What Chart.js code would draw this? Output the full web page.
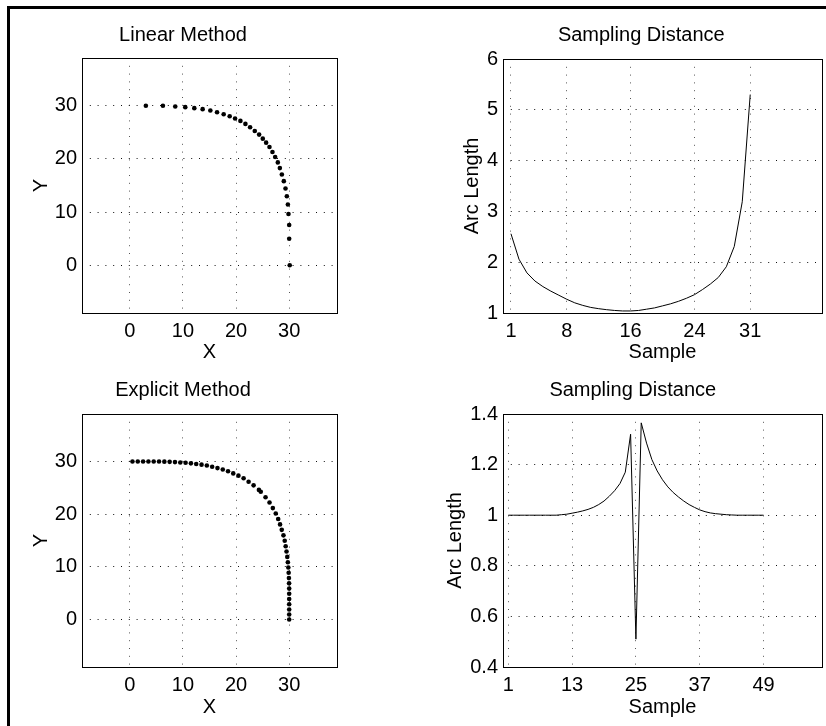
<!DOCTYPE html>
<html><head><meta charset="utf-8">
<script src="https://cdn.jsdelivr.net/npm/chart.js@4/dist/chart.umd.min.js"></script>
<style>
html,body{margin:0;padding:0;background:#fff;overflow:hidden;}
#wrap{position:relative;width:826px;height:726px;overflow:hidden;background:#fff;}
#frame{position:absolute;left:7px;top:6px;width:900px;height:900px;border:3px solid #000;box-sizing:border-box;}
canvas{position:absolute;left:0;top:0;}
</style></head><body>
<div id="wrap"><div id="frame"></div>
<canvas id="c1" width="826" height="726"></canvas>
<canvas id="c2" width="826" height="726"></canvas>
<canvas id="c3" width="826" height="726"></canvas>
<canvas id="c4" width="826" height="726"></canvas>
</div>
<script>
// ---- data ----
const linearX = [3.02,6.23,8.55,10.44,12.14,13.71,15.16,16.42,17.67,18.8,19.81,20.82,21.76,22.64,23.52,24.34,25.03,25.66,26.29,26.85,27.36,27.86,28.24,28.62,28.99,29.31,29.56,29.75,29.87,30.0,30.0,30.1];
const linearY = [30.0,30.0,29.87,29.75,29.56,29.37,29.12,28.8,28.42,28.04,27.6,27.16,26.6,25.97,25.27,24.58,23.82,23.07,22.25,21.3,20.36,19.35,18.28,17.08,15.82,14.43,12.98,11.41,9.64,7.56,4.98,0];
const linearArc = [2.56,2.06,1.79,1.63,1.52,1.43,1.35,1.27,1.20,1.15,1.11,1.085,1.065,1.05,1.04,1.04,1.05,1.075,1.10,1.14,1.18,1.23,1.29,1.36,1.46,1.57,1.70,1.91,2.31,3.19,5.30];
const explicitX = [0.5,1.5,2.5,3.5,4.5,5.5,6.5,7.5,8.5,9.5,10.5,11.5,12.5,13.5,14.5,15.5,16.5,17.5,18.49,19.47,20.45,21.42,22.36,23.3,24.3,24.65,25.55,26.3,26.92,27.47,27.93,28.28,28.6,28.92,29.16,29.34,29.5,29.64,29.75,29.84,29.9,29.95,29.98,30,30,30,30,30,30,30];
const explicitY = [30,30,30,30,29.99,29.98,29.96,29.92,29.87,29.81,29.74,29.64,29.52,29.39,29.22,29.0,28.74,28.47,28.14,27.73,27.3,26.8,26.16,25.46,24.6,24.25,23.2,22.2,21.15,20.12,19.08,18.05,17.02,15.98,14.95,13.92,12.9,11.89,10.88,9.87,8.87,7.87,6.87,5.87,4.9,3.9,2.9,1.9,0.95,0];
const explicitArc = [1,1,1,1,1,1,1,1,1,1,1.002,1.004,1.008,1.012,1.017,1.023,1.031,1.042,1.056,1.075,1.097,1.125,1.17,1.32,0.51,1.365,1.285,1.22,1.175,1.14,1.112,1.09,1.072,1.056,1.042,1.031,1.021,1.014,1.009,1.006,1.004,1.002,1.001,1,1,1,1,1,1];

const xyTicks = [0,10,20,30];
const xyTickLabels = ['0','10','20','30'];
const linSampleTicks = [1,8,16,24,31];
const linSampleLabels = ['1','8','16','24','31'];
const linArcTicks = [1,2,3,4,5,6];
const linArcLabels = ['1','2','3','4','5','6'];
const expSampleTicks = [1,13,25,37,49];
const expSampleLabels = ['1','13','25','37','49'];
const expArcTicks = [0.4,0.6,0.8,1,1.2,1.4];
const expArcLabels = ['0.4','0.6','0.8','1','1.2','1.4'];

const titles = ['Linear Method','Sampling Distance','Explicit Method','Sampling Distance'];

// ---- rendering ----
Chart.defaults.font.family = '"Liberation Sans", Arial, Helvetica, sans-serif';
Chart.defaults.color = '#000';
const FS = 20;

const boxPlugin = {
  id: 'box',
  afterDraw(chart) {
    const a = chart.chartArea, ctx = chart.ctx;
    ctx.save();
    ctx.strokeStyle = '#000';
    ctx.lineWidth = 1;
    ctx.strokeRect(Math.round(a.left) + 0.5, Math.round(a.top) + 0.5,
      Math.round(a.right) - Math.round(a.left), Math.round(a.bottom) - Math.round(a.top));
    ctx.restore();
  }
};

function axis(min, max, ticks, labels, title, gridColor, fixed, horiz, pad) {
  return {
    type: 'linear', min, max,
    afterBuildTicks: (s) => { s.ticks = ticks.map(v => ({value: v})); },
    afterFit: (s) => { if (horiz) s.height = fixed; else s.width = fixed; },
    ticks: {
      autoSkip: false, maxRotation: 0, padding: pad,
      font: {size: FS}, color: '#000',
      callback: (v) => { const i = ticks.indexOf(v); return i >= 0 ? labels[i] : ''; }
    },
    grid: {color: gridColor, lineWidth: 1, drawTicks: false},
    border: {display: false, dash: [1, 6.8]},
    title: {display: true, text: title, font: {size: FS}, color: '#000', padding: 0}
  };
}

function make(id, g, datasets, xs, ys, type) {
  const padLeft = g.yTitleCX - 12;
  const yWidth = g.L - padLeft;
  const xHeight = g.xTitleCY + 12 - g.B;
  new Chart(document.getElementById(id), {
    type: type,
    data: {datasets},
    options: {
      responsive: false, animation: false, devicePixelRatio: 1,
      layout: {padding: {left: padLeft, top: 0, right: 826 - g.R, bottom: 726 - g.B - xHeight}},
      plugins: {
        legend: {display: false}, tooltip: {enabled: false},
        title: {display: true, text: g.title, font: {size: FS, weight: 'normal'}, color: '#000',
          padding: {top: g.titleCY - 12, bottom: g.T - g.titleCY - 12}}
      },
      scales: {
        x: axis(xs.min, xs.max, xs.ticks, xs.labels, xs.title, '#555', xHeight, true, g.xPad),
        y: axis(ys.min, ys.max, ys.ticks, ys.labels, ys.title, '#111', yWidth, false, 5)
      }
    },
    plugins: [boxPlugin]
  });
}

const g1 = {L:82, T:58, R:337, B:313, titleCY:35.5, yTitleCX:41, xTitleCY:352.5, xPad:6.5, title: titles[0]};
const g2 = {L:503, T:59, R:822, B:313, titleCY:35.5, yTitleCX:472.5, xTitleCY:352.5, xPad:6.5, title: titles[1]};
const g3 = {L:82, T:414, R:337, B:667, titleCY:390.5, yTitleCX:41, xTitleCY:707.5, xPad:6, title: titles[2]};
const g4 = {L:503, T:414, R:822, B:667, titleCY:390.5, yTitleCX:455.5, xTitleCY:707.5, xPad:6, title: titles[3]};

const dotStyle = {showLine: false, pointRadius: 2.3, pointBackgroundColor: '#000', pointBorderWidth: 0, pointBorderColor: '#000'};
const lineStyle = {borderColor: '#000', borderWidth: 1, pointRadius: 0, tension: 0, fill: false};

make('c1', g1,
  [Object.assign({data: linearX.map((x, i) => ({x, y: linearY[i]}))}, dotStyle)],
  {min: -9, max: 39, ticks: xyTicks, labels: xyTickLabels, title: 'X'},
  {min: -9, max: 39, ticks: xyTicks, labels: xyTickLabels, title: 'Y'}, 'scatter');

make('c2', g2,
  [Object.assign({data: linearArc.map((v, i) => ({x: i + 1, y: v}))}, lineStyle)],
  {min: 0, max: 40, ticks: linSampleTicks, labels: linSampleLabels, title: 'Sample'},
  {min: 1, max: 6, ticks: linArcTicks, labels: linArcLabels, title: 'Arc Length'}, 'line');

make('c3', g3,
  [Object.assign({data: explicitX.map((x, i) => ({x, y: explicitY[i]}))}, dotStyle)],
  {min: -9, max: 39, ticks: xyTicks, labels: xyTickLabels, title: 'X'},
  {min: -9, max: 39, ticks: xyTicks, labels: xyTickLabels, title: 'Y'}, 'scatter');

make('c4', g4,
  [Object.assign({data: explicitArc.map((v, i) => ({x: i + 1, y: v}))}, lineStyle)],
  {min: 0, max: 60, ticks: expSampleTicks, labels: expSampleLabels, title: 'Sample'},
  {min: 0.4, max: 1.4, ticks: expArcTicks, labels: expArcLabels, title: 'Arc Length'}, 'line');
</script>
</body></html>
